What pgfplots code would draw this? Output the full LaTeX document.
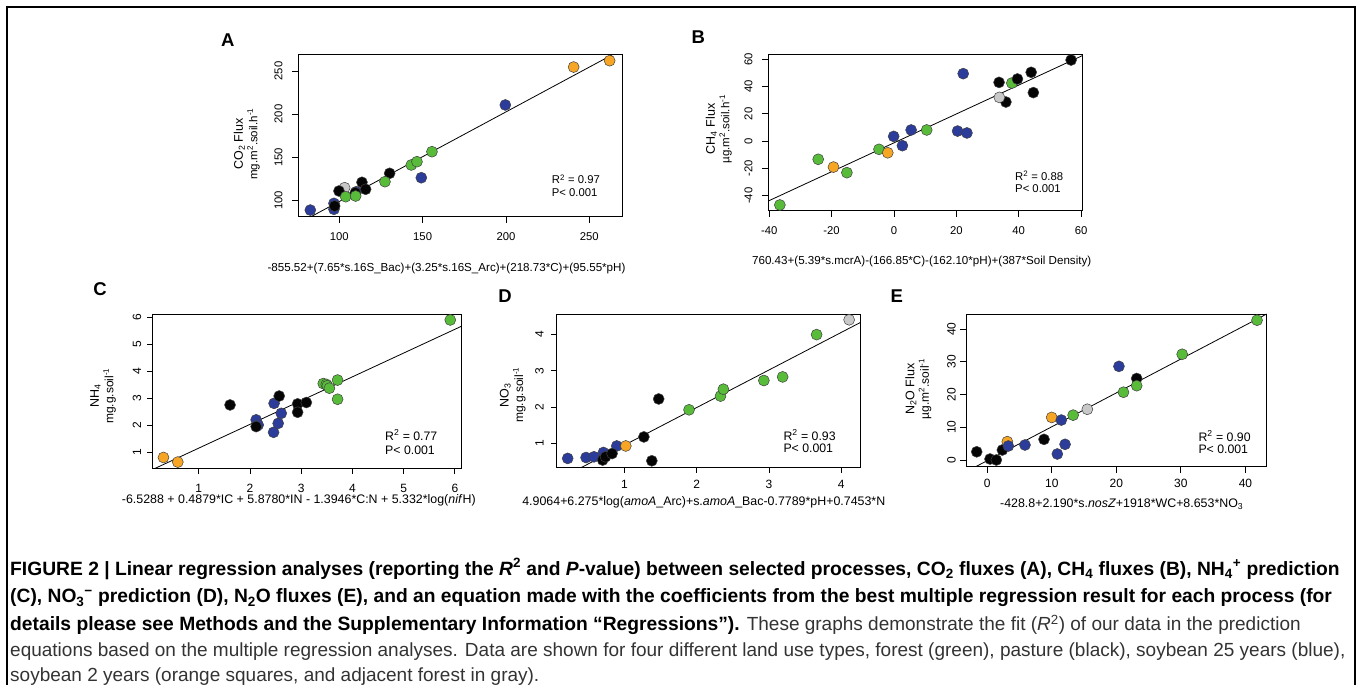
\documentclass[border=0pt]{standalone}
\usepackage{fontspec}
\setmainfont{Liberation Sans}
\usepackage{pgfplots}
\pgfplotsset{compat=1.18}

\definecolor{cgreen}{RGB}{88,188,58}
\definecolor{cblue}{RGB}{44,60,155}
\definecolor{corange}{RGB}{246,166,36}
\definecolor{cgray}{RGB}{200,200,200}
\definecolor{cblack}{RGB}{5,5,5}

\newcommand{\fs}[1]{\fontsize{#1}{#1}\selectfont}

\pgfplotsset{
  panel/.style={scale only axis, anchor=south west,
    axis line style={line width=0.9pt},
    tick align=inside, major tick length=-6pt,
    tick style={black,line width=0.8pt},
    xtick pos=bottom, ytick pos=left,
    scaled ticks=false,
    /pgf/number format/assume math mode=true,
    ticklabel style={font=\fs{#1}, inner sep=0pt},
  },
  pt/.style={only marks, mark=*, mark size=5.5pt,
    mark options={draw=black!75, line width=0.5pt, fill=#1}},
  rl/.style={black, line width=0.8pt, no marks},
}

\begin{document}
\begin{tikzpicture}
\useasboundingbox (0,0) rectangle (1359pt,685pt);

% frame
\draw[line width=1.8pt] (7.3pt,0pt) -- (7.3pt,678.3pt) -- (1355pt,678.3pt) -- (1355pt,0pt);

%================ A =================
\begin{axis}[panel=11.3, at={(298.3pt,468.3pt)}, width=324pt, height=162.4pt,
  xmin=75.4, xmax=269.8, ymin=81, ymax=269.4,
  xtick={100,150,200,250}, ytick={100,150,200,250},
  xticklabel style={anchor=base, yshift=-24pt},
  yticklabel style={anchor=base, xshift=-16pt, rotate=90}]
\addplot[rl] coordinates {(75.4,73.1) (269.8,275.1)};
\addplot[pt=cgray] coordinates {(103.2,114.6)};
\addplot[pt=cblue] coordinates {(82.6,88.7) (96.8,96.5) (96.8,89.6) (110.2,110) (149.2,126.2) (199.6,210.6)};
\addplot[pt=cblack] coordinates {(97.2,93.4) (99.8,110.8) (109.6,108.8) (113.6,120.9) (115.8,112.8) (130.2,131.3)};
\addplot[pt=cgreen] coordinates {(103.8,104.2) (109.8,105) (127.4,121.6) (143.2,141) (146.6,144.8) (155.6,156.4)};
\addplot[pt=corange] coordinates {(240.6,254.6) (262.2,262)};
\end{axis}

%================ B =================
\begin{axis}[panel=11.3, at={(768.3pt,474.3pt)}, width=314pt, height=156.4pt,
  xmin=-40.3, xmax=60.4, ymin=-51, ymax=63.7,
  xtick={-40,-20,0,20,40,60}, ytick={-40,-20,0,20,40,60},
  xticklabel style={anchor=base, yshift=-24pt},
  yticklabel style={anchor=base, xshift=-16pt, rotate=90}]
\addplot[rl] coordinates {(-40.3,-43.9) (60.4,62.7)};
\addplot[pt=cgreen] coordinates {(-36.6,-46.8) (-24.3,-13.3) (-15.1,-23.1) (-4.8,-6) (10.5,8.2) (37.8,42.6)};
\addplot[pt=corange] coordinates {(-19.4,-19) (-2,-8.5)};
\addplot[pt=cblue] coordinates {(-0.1,3.5) (2.7,-3.3) (5.5,8.2) (20.4,7.4) (23.4,6) (22.2,49.5)};
\addplot[pt=cblack] coordinates {(33.7,43.1) (35.9,28.7) (39.6,45.6) (44,50.5) (44.7,35.6) (56.8,59.5)};
\addplot[pt=cgray] coordinates {(33.8,32.1)};
\end{axis}

%================ C =================
\begin{axis}[panel=12, at={(152.7pt,216.7pt)}, width=308.3pt, height=154.3pt,
  xmin=0.10, xmax=6.12, ymin=0.42, ymax=6.12,
  xtick={1,2,3,4,5,6}, ytick={1,2,3,4,5,6},
  xticklabel style={anchor=base, yshift=-24pt},
  yticklabel style={anchor=base, xshift=-11.5pt, rotate=90}]
\addplot[rl] coordinates {(0.10,0.376) (6.12,5.66)};
\addplot[pt=corange] coordinates {(0.31,0.82) (0.59,0.65)};
\addplot[pt=cblue] coordinates {(2.12,2.21) (2.16,2.02) (2.46,1.75) (2.47,2.82) (2.61,2.45) (2.55,2.08)};
\addplot[pt=cblack] coordinates {(1.61,2.76) (2.12,1.96) (2.57,3.09) (2.93,2.80) (2.93,2.49) (3.10,2.85)};
\addplot[pt=cgreen] coordinates {(3.43,3.55) (3.49,3.52) (3.51,3.47) (3.55,3.38) (3.71,3.68) (3.71,2.97) (5.91,5.90)};
\end{axis}

%================ D =================
\begin{axis}[panel=12, at={(556.7pt,217.7pt)}, width=304pt, height=153.3pt,
  xmin=0.064, xmax=4.27, ymin=0.33, ymax=4.57,
  xtick={1,2,3,4}, ytick={1,2,3,4},
  xticklabel style={anchor=base, yshift=-21.7pt},
  yticklabel style={anchor=base, xshift=-13pt, rotate=90}]
\addplot[rl] coordinates {(0.064,-0.03) (4.27,4.34)};
\addplot[pt=cblue] coordinates {(0.216,0.576) (0.47,0.60) (0.58,0.62) (0.71,0.74) (0.895,0.92)};
\addplot[pt=cblack] coordinates {(0.70,0.53) (0.74,0.62) (0.83,0.71) (1.27,1.17) (1.38,0.51) (1.475,2.22)};
\addplot[pt=corange] coordinates {(1.02,0.92)};
\addplot[pt=cgreen] coordinates {(1.895,1.92) (2.33,2.30) (2.37,2.49) (2.93,2.73) (3.19,2.83) (3.66,4.0)};
\addplot[pt=cgray] coordinates {(4.11,4.41)};
\end{axis}

%================ E =================
\begin{axis}[panel=12, at={(966pt,218.3pt)}, width=300.7pt, height=152.7pt,
  xmin=-3.3, xmax=43.3, ymin=-2.05, ymax=44.6,
  xtick={0,10,20,30,40}, ytick={0,10,20,30,40},
  xticklabel style={anchor=base, yshift=-21.3pt},
  yticklabel style={anchor=base, xshift=-10.5pt, rotate=90}]
\addplot[rl] coordinates {(-3.3,-3.6) (43.3,44.6)};
\addplot[pt=cblack] coordinates {(-1.64,2.5) (0.42,0.3) (1.4,0) (2.33,3.05) (8.79,6.3) (23.15,24.9)};
\addplot[pt=corange] coordinates {(3.1,5.6) (9.98,13.0)};
\addplot[pt=cblue] coordinates {(3.26,4.27) (5.84,4.58) (10.85,1.83) (12.05,4.78) (11.47,12.2) (20.4,28.6)};
\addplot[pt=cgreen] coordinates {(13.3,13.7) (21.1,20.7) (23.15,22.7) (30.2,32.3) (41.8,42.7)};
\addplot[pt=cgray] coordinates {(15.5,15.5)};
\end{axis}

% panel letters
\node[font=\fs{18.5}\bfseries] at (227.7pt,645pt) {A};
\node[font=\fs{18.5}\bfseries] at (698.3pt,647.7pt) {B};
\node[font=\fs{18.5}\bfseries] at (100pt,395.7pt) {C};
\node[font=\fs{18.5}\bfseries] at (505pt,389pt) {D};
\node[font=\fs{18.5}\bfseries] at (896.7pt,389pt) {E};

% x labels
\begin{scope}[every node/.style={inner sep=0pt}]
\node[font=\fs{11.6}] at (446.5pt,416.7pt) {-855.52+(7.65*s.16S\_Bac)+(3.25*s.16S\_Arc)+(218.73*C)+(95.55*pH)};
\node[font=\fs{11.6}] at (921.7pt,423.3pt) {760.43+(5.39*s.mcrA)-(166.85*C)-(162.10*pH)+(387*Soil Density)};
\node[font=\fs{12.4}] at (298.8pt,185pt) {-6.5288 + 0.4879*IC + 5.8780*IN - 1.3946*C:N + 5.332*log(\textit{nif}H)};
\node[font=\fs{12.4}] at (703.8pt,182.3pt) {4.9064+6.275*log(\textit{amoA}\_Arc)+s.\textit{amoA}\_Bac-0.7789*pH+0.7453*N};
\node[font=\fs{12.4}] at (1121.7pt,181pt) {-428.8+2.190*s.\textit{nosZ}+1918*WC+8.653*NO\textsubscript{3}};

% y labels
\node[rotate=90, align=center] at (246.7pt,541pt) {\fs{12.5}CO\textsubscript{2} Flux\\[2.5pt]\fs{11.5}mg.m\textsuperscript{2}.soil.h\textsuperscript{-1}};
\node[rotate=90, align=center] at (718.8pt,556pt) {\fs{12.5}CH\textsubscript{4} Flux\\[2.5pt]\fs{11.5}µg.m\textsuperscript{2}.soil.h\textsuperscript{-1}};
\node[rotate=90, align=center] at (103pt,289pt) {\fs{12.5}NH\textsubscript{4}\\[2.5pt]\fs{12}mg.g.soil\textsuperscript{-1}};
\node[rotate=90, align=center] at (512.7pt,290pt) {\fs{12.5}NO\textsubscript{3}\\[2.5pt]\fs{12}mg.g.soil\textsuperscript{-1}};
\node[rotate=90, align=center] at (918.3pt,296pt) {\fs{12.5}N\textsubscript{2}O Flux\\[2.5pt]\fs{12}µg.m\textsuperscript{2}.soil\textsuperscript{-1}};

% R2 texts
\node[font=\fs{11.3}, anchor=west] at (551.7pt,505.7pt) {R\textsuperscript{2} = 0.97};
\node[font=\fs{11.3}, anchor=west] at (551.7pt,492.3pt) {P< 0.001};
\node[font=\fs{11.3}, anchor=west] at (1015pt,509pt) {R\textsuperscript{2} = 0.88};
\node[font=\fs{11.3}, anchor=west] at (1015pt,496.7pt) {P< 0.001};
\node[font=\fs{12.3}, anchor=west] at (385pt,250pt) {R\textsuperscript{2} = 0.77};
\node[font=\fs{12.3}, anchor=west] at (385pt,234.3pt) {P< 0.001};
\node[font=\fs{12.3}, anchor=west] at (783.3pt,250pt) {R\textsuperscript{2} = 0.93};
\node[font=\fs{12.3}, anchor=west] at (783.3pt,236.7pt) {P< 0.001};
\node[font=\fs{12.3}, anchor=west] at (1198.3pt,249pt) {R\textsuperscript{2} = 0.90};
\node[font=\fs{12.3}, anchor=west] at (1198.3pt,235.7pt) {P< 0.001};
\end{scope}

% caption
\begin{scope}[every node/.style={anchor=base west, inner sep=0pt}]
\node[font=\fs{19.25}\bfseries] at (10pt,109.5pt) {FIGURE 2 | Linear regression analyses (reporting the \textit{R}\textsuperscript{2} and \textit{P}-value) between selected processes, CO\textsubscript{2} fluxes (A), CH\textsubscript{4} fluxes (B), NH\textsubscript{4}\textsuperscript{+} prediction};
\node[font=\fs{19.25}\bfseries] at (10pt,82pt) {(C), NO\textsubscript{3}\textsuperscript{−} prediction (D), N\textsubscript{2}O fluxes (E), and an equation made with the coefficients from the best multiple regression result for each process (for};
\node[font=\fs{19}] at (10pt,54.5pt) {{\fontsize{19.25}{19.25}\selectfont\bfseries details please see Methods and the Supplementary Information “Regressions”).} \color{black!80}These graphs demonstrate the fit (\textit{R}\textsuperscript{2}) of our data in the prediction};
\node[font=\fs{19}, text=black!80] at (10pt,28pt) {equations based on the multiple regression analyses. Data are shown for four different land use types, forest (green), pasture (black), soybean 25 years (blue),};
\node[font=\fs{19}, text=black!80] at (10pt,4pt) {soybean 2 years (orange squares, and adjacent forest in gray).};
\end{scope}
\end{tikzpicture}
\end{document}
